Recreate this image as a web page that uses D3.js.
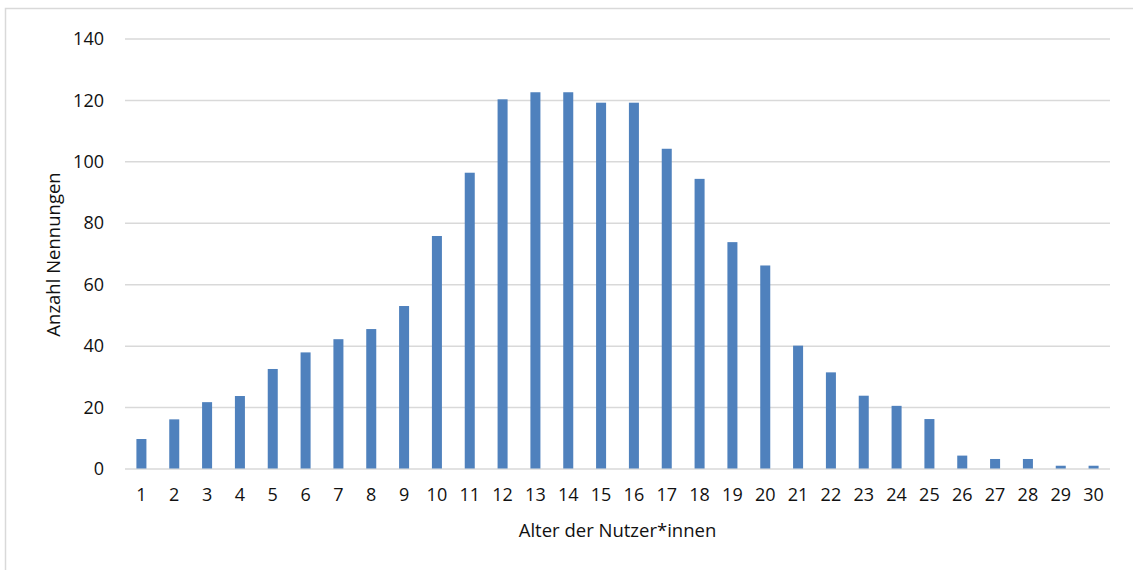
<!DOCTYPE html>
<html>
<head>
<meta charset="utf-8">
<script src="https://cdn.jsdelivr.net/npm/d3@7"></script>
<style>
  html, body { margin: 0; padding: 0; background: #fff; }
  svg { display: block; }
  text { font-family: "Open Sans", "Noto Sans", sans-serif; fill: #111; }
</style>
</head>
<body>
<svg id="chart" width="1133" height="570"></svg>
<script>
// Alter der Nutzer*innen (1–30) und Anzahl der Nennungen
const ages = d3.range(1, 31);
const counts = [9.6, 16.0, 21.6, 23.6, 32.4, 37.8, 42.1, 45.4, 52.9, 75.7,
                96.3, 120.2, 122.5, 122.5, 119.1, 119.1, 104.1, 94.3, 73.7, 66.1,
                40.0, 31.3, 23.7, 20.4, 16.1, 4.2, 3.1, 3.1, 0.9, 0.9];
const yTicks = [0, 20, 40, 60, 80, 100, 120, 140];
const xTitle = "Alter der Nutzer*innen";
const yTitle = "Anzahl Nennungen";

const svg = d3.select("#chart");
const plot = { left: 125, right: 1110, top: 38.5, bottom: 468.5 };
const tickFont = 18;
const titleFont = 18.5;

// outer chart frame
svg.append("rect")
  .attr("x", 5.5).attr("y", 8.5)
  .attr("width", 1300).attr("height", 700)
  .attr("fill", "none").attr("stroke", "#d9d9d9").attr("stroke-width", 1.5);

const x = d3.scaleBand()
  .domain(ages)
  .range([plot.left, plot.right])
  .paddingInner(0.695)
  .paddingOuter(0.3475);

const y = d3.scaleLinear()
  .domain([0, 140])
  .range([plot.bottom, plot.top]);

// horizontal gridlines with value labels
const yAxis = d3.axisLeft(y)
  .tickValues(yTicks)
  .tickSize(-(plot.right - plot.left))
  .tickPadding(21);

const gy = svg.append("g")
  .attr("transform", `translate(${plot.left},0)`)
  .call(yAxis);
gy.select(".domain").remove();
gy.selectAll(".tick line").attr("stroke", "#d9d9d9").attr("stroke-width", 1.5);
gy.selectAll(".tick text")
  .attr("font-size", tickFont)
  .attr("font-family", "Open Sans, Noto Sans, sans-serif")
  .attr("fill", "#111")
  .attr("dy", "0.34em");

// bars
svg.append("g")
  .selectAll("rect")
  .data(ages)
  .join("rect")
  .attr("x", (d) => x(d))
  .attr("width", x.bandwidth())
  .attr("y", (d, i) => y(counts[i]))
  .attr("height", (d, i) => y(0) - y(counts[i]))
  .attr("fill", "#4f81bd");

// category axis
const xAxis = d3.axisBottom(x).tickSize(0).tickPadding(26);
const gx = svg.append("g")
  .attr("transform", `translate(0,${plot.bottom})`)
  .call(xAxis);
gx.select(".domain").remove();
gx.selectAll(".tick text")
  .attr("font-size", tickFont)
  .attr("font-family", "Open Sans, Noto Sans, sans-serif")
  .attr("fill", "#111")
  .attr("dy", "0.34em");

// axis titles
svg.append("text")
  .attr("x", (plot.left + plot.right) / 2)
  .attr("y", 537)
  .attr("text-anchor", "middle")
  .attr("font-size", titleFont)
  .text(xTitle);

svg.append("text")
  .attr("transform", `translate(60,${(plot.top + plot.bottom) / 2 + 1}) rotate(-90)`)
  .attr("text-anchor", "middle")
  .attr("font-size", titleFont)
  .text(yTitle);
</script>
</body>
</html>
